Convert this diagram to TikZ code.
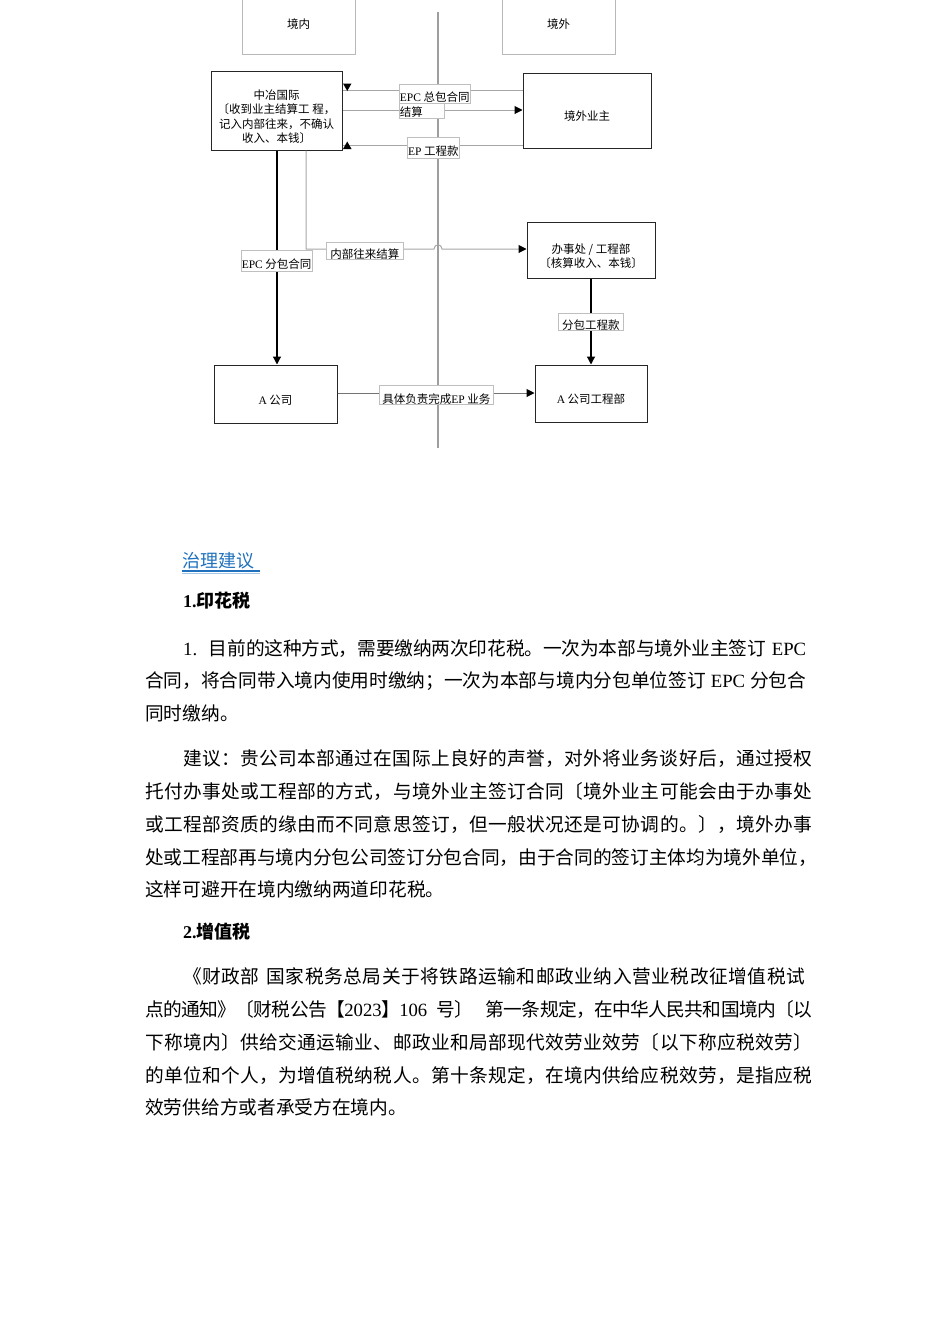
\documentclass[tikz,border=0pt]{standalone}
\usepackage{fontspec}
\setmainfont{Noto Sans CJK SC}
\newfontfamily\lat{Liberation Serif}
\usetikzlibrary{arrows.meta}
\definecolor{titleblue}{RGB}{31,113,190}
\makeatletter
\def\sp@endmark{\@nil}
\def\sp@r#1{\def\sp@tmp{#1}\ifx\sp@tmp\sp@endmark\else{#1}\expandafter\sp@rr\fi}
\def\sp@rr#1{\def\sp@tmp{#1}\ifx\sp@tmp\sp@endmark\else\hskip0pt plus1fil minus1pt{#1}\expandafter\sp@rr\fi}
\newcommand\jline[2]{\hbox to #1{\sp@r#2\@nil}}
\makeatother
\newcommand\dn[1]{\raisebox{-7.5pt}[\height][\depth]{\begin{tabular}{@{}c@{}}#1\end{tabular}}}
\begin{document}
\begin{tikzpicture}[x=1pt,y=-1pt,
  graybox/.style={draw=black!28, line width=0.7pt, minimum width=113pt, minimum height=59pt, font=\fontsize{11.5}{14.5}\selectfont},
  mainbox/.style={draw=black!85, line width=1pt, align=center, inner sep=0pt, font=\fontsize{11.5}{14.5}\selectfont},
  lbl/.style={draw=black!25, line width=0.5pt, fill=white, inner sep=0.5pt, anchor=north west, font=\fontsize{11.5}{13}\selectfont},
  gline/.style={draw=black!35, line width=1pt},
  dline/.style={draw=black!55, line width=1pt},
  bline/.style={draw=black, line width=1.2pt},
  tip/.style={-{Triangle[width=8pt,length=8pt,color=black]}},
  body/.style={anchor=base west, inner sep=0pt, font=\fontsize{18.7}{19}\selectfont},
  head/.style={anchor=base west, inner sep=0pt, font=\fontsize{18}{19}\selectfont\bfseries}]
\useasboundingbox (0,0) rectangle (950,1344);

% divider
\coordinate (dtop) at (438,12);
\coordinate (dbot) at (438,448);
\draw[draw=black!38, line width=1.3pt] (dtop) -- (dbot);

% boxes
\node[graybox] (nei) at (298.5,24.5) {境内};
\node[graybox] (wai) at (558.5,24.5) {境外};
\node[mainbox, minimum width=131pt, minimum height=79pt] (zy) at (276.5,110.5)
  {\dn{中冶国际\\〔收到业主结算工 程，\\记入内部往来，不确认\\收入、本钱〕}};
\node[mainbox, minimum width=128pt, minimum height=75pt] (yz) at (587,110.5) {\dn{境外业主}};
\node[mainbox, minimum width=128pt, minimum height=56pt] (bsc) at (591,250)
  {\dn{办事处 / 工程部\\〔核算收入、本钱〕}};
\node[mainbox, minimum width=123pt, minimum height=58pt] (ag) at (275.5,394) {\dn{{\lat A} 公司}};
\node[mainbox, minimum width=112pt, minimum height=57pt] (agb) at (591,393.5) {\dn{{\lat A} 公司工程部}};

% connectors
\coordinate (y1) at (0,90);
\coordinate (y2) at (0,110);
\coordinate (y3) at (0,145);
\coordinate (xa) at (277,0);
\coordinate (xb) at (306,0);
\coordinate (yb) at (0,249);
\coordinate (yc) at (0,393);
\draw[gline] (yz.west|-y1) -- (zy.east|-y1);
\fill (343,83.5) -- (351.5,83.5) -- (347.25,91) -- cycle;
\draw[gline, tip] (zy.east|-y2) -- (yz.west|-y2);
\draw[gline] (yz.west|-y3) -- (zy.east|-y3);
\fill (343,149) -- (351.5,149) -- (347.25,141.5) -- cycle;
\draw[bline, tip] (zy.south-|xa) -- (ag.north-|xa);
\draw[gline, tip] (zy.south-|xb) -- (xb|-yb) -- (434,249) .. controls (434,243.5) and (442,243.5) .. (442,249) -- (bsc.west|-yb);
\draw[bline, tip] (bsc.south) -- (agb.north);
\draw[dline, tip] (ag.east|-yc) -- (agb.west|-yc);

% labels
\node[lbl, minimum width=71pt, text height=16.3pt, text depth=1.7pt] (l1) at (399,84) {{\lat EPC} 总包合同};
\node[lbl, text width=44pt, align=left, text height=12.3pt, text depth=1.7pt] (l2) at (399,103) {结算};
\node[lbl, minimum width=52pt, text height=17.8pt, text depth=1.7pt] (l3) at (407,137) {{\lat EP} 工程款};
\node[lbl, minimum width=70pt, text height=17.3pt, text depth=2.7pt] (l4) at (241,250) {{\lat EPC} 分包合同};
\node[lbl, minimum width=77pt, text height=15.5pt, text depth=0pt] (l5) at (326,242) {内部往来结算};
\node[lbl, minimum width=65pt, text height=15.5pt, text depth=0pt] (l6) at (558,313) {分包工程款};
\node[lbl, minimum width=114pt, text height=17.5pt, text depth=0pt] (l7) at (379,385) {具体负责完成{\lat EP} 业务};

% text
\node[anchor=base west, inner sep=0pt, font=\fontsize{18}{19}\selectfont, text=titleblue] (t0) at (182,567) {治理建议};
\draw[titleblue, line width=1.3pt] (182,571) -- (260,571);
\draw[titleblue!40, line width=0.8pt] (182,573.5) -- (260,573.5);
\node[head] (h1) at (183,607) {{\lat 1.}印花税};

\node[body] (p11) at (183,655) {\jline{623pt}{{\lat 1.}{\hspace{12pt}}目前的这种方式，需要缴纳两次印花税。一次为本部与境外业主签订{\hspace{6pt}}{\lat EPC}}};
\node[body] (p12) at (145,687) {\jline{661pt}{合同，将合同带入境内使用时缴纳；一次为本部与境内分包单位签订{\hspace{5pt}}{\lat EPC}{\hspace{5pt}}分包合}};
\node[body] (p13) at (145,720) {同时缴纳。};

\node[body] (p21) at (183,765) {\jline{629pt}{建议：贵公司本部通过在国际上良好的声誉，对外将业务谈好后，通过授权}};
\node[body] (p22) at (145,798) {\jline{667pt}{托付办事处或工程部的方式，与境外业主签订合同〔境外业主可能会由于办事处}};
\node[body] (p23) at (145,831) {\jline{667pt}{或工程部资质的缘由而不同意思签订，但一般状况还是可协调的。〕，境外办事}};
\node[body] (p24) at (145,864) {\jline{672pt}{处或工程部再与境内分包公司签订分包合同，由于合同的签订主体均为境外单位，}};
\node[body] (p25) at (145,896) {这样可避开在境内缴纳两道印花税。};

\node[head] (h2) at (183,938) {{\lat 2.}增值税};

\node[body] (p31) at (183,983) {\jline{622pt}{《财政部{\hspace{6pt}}国家税务总局关于将铁路运输和邮政业纳入营业税改征增值税试}};
\node[body] (p32) at (145,1016) {\jline{667pt}{点的通知》〔财税公告【{\lat 2023}】{\lat 106}{\hspace{10pt}}号〕{\hspace{14pt}}第一条规定，在中华人民共和国境内〔以}};
\node[body] (p33) at (145,1049) {\jline{667pt}{下称境内〕供给交通运输业、邮政业和局部现代效劳业效劳〔以下称应税效劳〕}};
\node[body] (p34) at (145,1082) {\jline{667pt}{的单位和个人，为增值税纳税人。第十条规定，在境内供给应税效劳，是指应税}};
\node[body] (p35) at (145,1114) {效劳供给方或者承受方在境内。};
\end{tikzpicture}
\end{document}
